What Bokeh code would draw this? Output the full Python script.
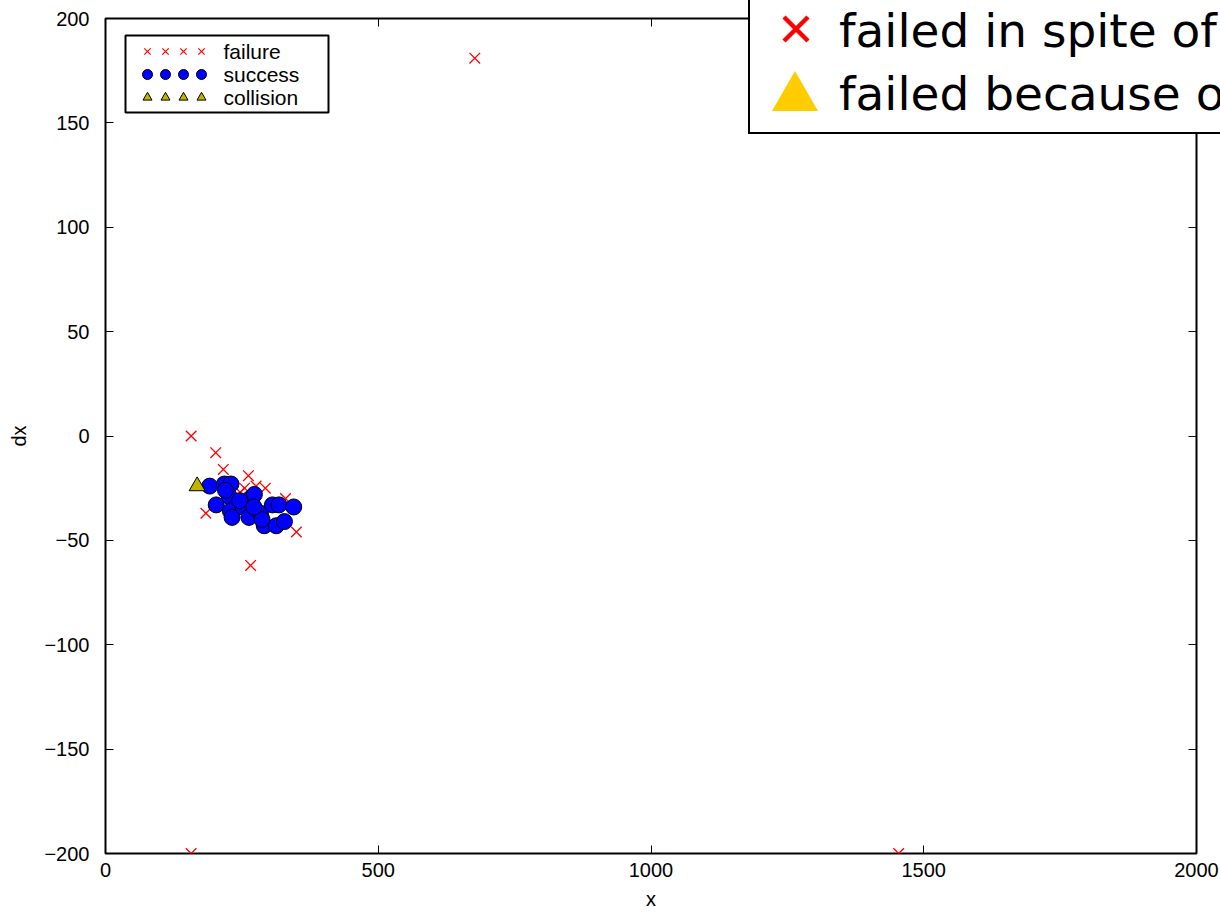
from bokeh.plotting import figure
from bokeh.layouts import column
from bokeh.models import (FixedTicker, LinearAxis, CustomJSTickFormatter, Range1d,
                          BoxAnnotation, Label, Div)
from bokeh.embed import file_html
from bokeh.resources import INLINE

# ---- data ----
fail_x = [157, 677, 157, 1454, 202, 184, 216, 262, 266, 350, 293, 255, 247, 330, 276]
fail_y = [0, 181, -200, -200, -8, -37, -16, -19, -62, -46, -25, -25, -27, -30, -24]
succ_x = [191, 218, 230, 227, 203, 229, 232, 265, 273, 252, 263, 284, 291, 313, 306,
          318, 345, 328, 287, 246, 272, 220]
succ_y = [-24, -23, -23, -29, -33, -36, -39, -30, -28, -34, -39, -37, -43, -43, -33,
          -33, -34, -41, -40, -31, -34, -26]
coll_x = [168]
coll_y = [-24]
x_ticks = [0, 500, 1000, 1500, 2000]
y_ticks = [-200, -150, -100, -50, 0, 50, 100, 150, 200]
legend_labels = ["failure", "success", "collision"]
box_labels = ["failed in spite of", "failed because of"]

FONT = "Liberation Sans"
X0, X1, Y0, Y1 = 0, 2000, -200, 200
FL, FR, FT, FB = 105, 1196, 18, 853  # frame in page px

p = figure(width=1220, height=912, output_backend="svg", toolbar_location=None,
           x_range=Range1d(X0, X1), y_range=Range1d(Y0, Y1),
           min_border_left=FL, min_border_right=1220 - FR, min_border_top=FT,
           min_border_bottom=912 - FB,
           x_axis_label="x", y_axis_label="dx")
p.grid.visible = False
p.outline_line_color = "black"
p.outline_line_width = 2
p.background_fill_color = "white"
p.border_fill_color = "white"

fmt = CustomJSTickFormatter(code="return tick < 0 ? '\u2212' + Math.abs(tick) : String(tick);")
blank = CustomJSTickFormatter(code="return '';")

p.add_layout(LinearAxis(), "right")
p.add_layout(LinearAxis(), "above")
for ax in p.axis:
    ax.axis_line_color = None
    ax.major_tick_in = 8
    ax.major_tick_out = 0
    ax.minor_tick_line_color = None
    ax.major_tick_line_color = "black"
    ax.major_tick_line_width = 1
    ax.major_label_text_font = FONT
    ax.major_label_text_font_size = "20px"
    ax.major_label_text_color = "black"
    ax.axis_label_text_font = FONT
    ax.axis_label_text_font_size = "20px"
    ax.axis_label_text_font_style = "normal"
    ax.axis_label_text_color = "black"
    ax.formatter = fmt
p.xaxis.ticker = FixedTicker(ticks=x_ticks)
p.yaxis.ticker = FixedTicker(ticks=y_ticks)
bx, ly = p.below[0], p.left[0]
bx.major_label_standoff = 9
bx.axis_label_standoff = 8
ly.major_label_standoff = 16
ly.axis_label_standoff = 11
for ax in (p.right[0], p.above[0]):
    ax.formatter = blank
    ax.major_label_text_font_size = "1px"
    ax.major_label_standoff = 0

# ---- data marks ----
p.scatter(fail_x, fail_y, marker="x", size=15, line_color="red", line_width=1.3)
p.scatter(succ_x, succ_y, marker="circle", size=16, fill_color="#0000ff", line_color="black", line_width=1)
p.scatter(coll_x, coll_y, marker="triangle", size=16, fill_color="#c0b400", line_color="black", line_width=1)

# ---- helpers for decorations in page px ----
def dx(px):
    return X0 + (px - FL) * (X1 - X0) / (FR - FL)

def dy(py):
    return Y1 - (py - FT) * (Y1 - Y0) / (FB - FT)

# ---- gnuplot-style key (top left) ----
p.add_layout(BoxAnnotation(left=dx(125), right=dx(328), top=dy(35), bottom=dy(112),
                           fill_color="white", fill_alpha=1, line_color="black", line_alpha=1,
                           line_width=2, level="annotation"))
sym_px = [147, 165, 183, 201]
rows = [51, 74, 97]
kx = [dx(v) for v in sym_px]
p.scatter(kx, [dy(rows[0])] * 4, marker="x", size=9, line_color="red", line_width=1.2, level="overlay")
p.scatter(kx, [dy(rows[1])] * 4, marker="circle", size=10, fill_color="#0000ff", line_color="black", level="overlay")
p.scatter(kx, [dy(rows[2])] * 4, marker="triangle", size=9, fill_color="#c0b400", line_color="black", level="overlay")
for lab, r in zip(legend_labels, rows):
    p.add_layout(Label(x=dx(223), y=dy(r), text=lab, text_font=FONT, text_font_size="21px",
                       text_color="black", text_baseline="middle", text_align="left", level="overlay"))

# ---- big overlay box (top right), drawn over the page corner ----
OL, OW, OH = 748, 472, 136
texts = "".join(
    f'<text x="91" y="{b}" style="font-family:\'DejaVu Sans\';font-size:47px;fill:#000">{t}</text>'
    for t, b in zip(box_labels, [47, 110]))
svg = (f'<svg xmlns="http://www.w3.org/2000/svg" width="{OW}" height="{OH}" '
       f'style="display:block;overflow:hidden">'
       f'<rect x="1" y="-10" width="{OW + 20}" height="143" fill="white" stroke="black" stroke-width="2"/>'
       f'<path d="M36 17 L60 41 M36 41 L60 17" stroke="red" stroke-width="4.5" fill="none"/>'
       f'<polygon points="47,71 70,111 24,111" fill="#ffcc00"/>'
       f'{texts}</svg>')
ov = Div(text=svg, width=OW, height=OH,
         styles={"position": "absolute", "left": f"{OL}px", "top": "0px", "z-index": "10",
                 "overflow": "hidden", "margin": "0", "padding": "0"})

layout = column(p, ov, spacing=0)
open("out.html", "w").write(file_html(layout, INLINE))
